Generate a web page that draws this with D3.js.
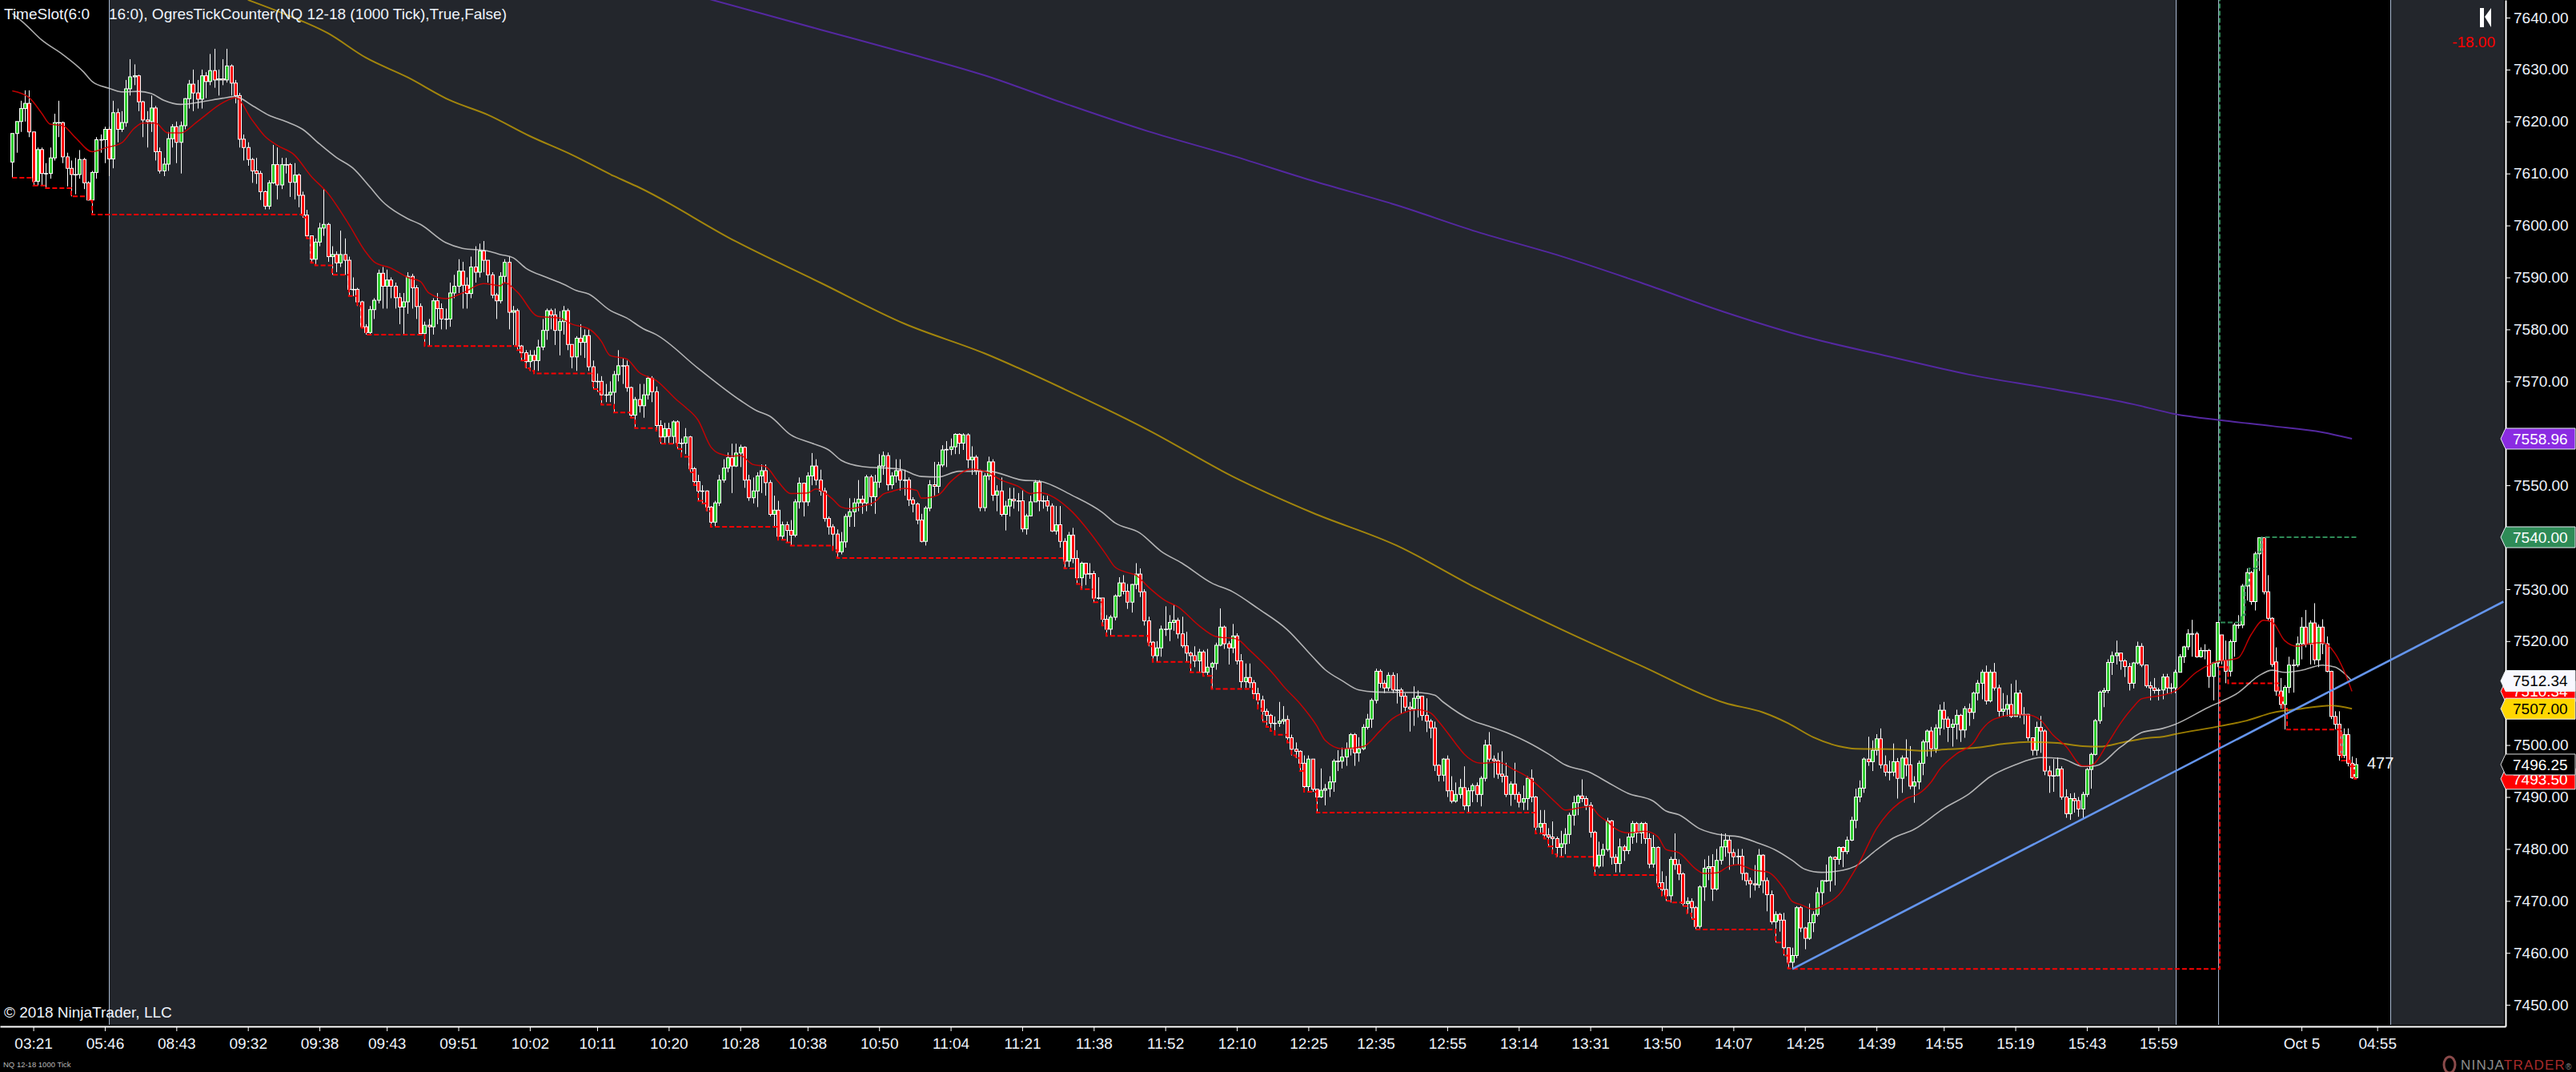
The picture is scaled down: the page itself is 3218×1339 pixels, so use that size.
<!DOCTYPE html>
<html>
<head>
<meta charset="utf-8">
<script src="https://cdn.jsdelivr.net/npm/d3@7"></script>
<style>
html, body { margin: 0; padding: 0; background: #000; overflow: hidden; }
text { font-family: "Liberation Sans", Arial, sans-serif; }
</style>
</head>
<body>
<div id="chart"></div>
<script>
// bars, 10 per row
const closes = [
7617.7,7620,7622.5,7623.5,7618,7608.5,7614.6,7610,7610,7613,
7619.8,7619.8,7613.2,7611,7609.8,7609.8,7612.7,7608.2,7604.9,7610.2,
7616.5,7616.5,7618.5,7612.8,7621.7,7618.5,7619.8,7626.3,7628.6,7628.8,
7623.8,7620.3,7620,7622.6,7614.2,7610.5,7611.8,7616.7,7619,7616,
7619.2,7624.4,7627.2,7625.5,7624.3,7628.8,7627.7,7629.8,7628,7628.2,
7628,7630.7,7627.4,7625,7616.6,7615,7612.7,7610.5,7610,7606.5,
7603.7,7608.2,7611.7,7607.8,7611.7,7611.7,7608.3,7609.7,7605.8,7602,
7598,7593.5,7596.8,7599.5,7600.2,7594,7594.4,7592.8,7594.4,7593.3,
7587.7,7587.7,7585.3,7580.5,7579.4,7583.8,7585.6,7590.8,7588.3,7589.5,
7588.3,7586.1,7584.3,7585.3,7590.2,7588,7584.4,7579.2,7580.8,7580.5,
7585.5,7584,7582,7582,7587,7588.3,7591.2,7588.5,7586.9,7592,
7591,7595.1,7593.3,7590.5,7586.6,7585.5,7590.2,7592.9,7583.3,7583.6,
7576.8,7575.5,7573.8,7575,7574,7576.6,7579.8,7583.6,7582.8,7579.8,
7581.5,7583.6,7577.1,7574.7,7578.3,7577.5,7578.8,7572.8,7570,7570,
7567.4,7567.4,7567.9,7571.3,7573,7573,7568.8,7563.5,7566.5,7565.3,
7567.4,7570.6,7568,7561.5,7559.3,7560.9,7559.4,7562.2,7558.1,7558.1,
7559.3,7553.2,7550.7,7548.9,7548.9,7545.8,7542.9,7546.6,7551,7553.3,
7555.3,7553.7,7556.2,7557.3,7551,7547.6,7548.9,7551.8,7552.8,7550.5,
7544.4,7545.2,7540.2,7542.4,7541.3,7540.4,7546.8,7550.4,7546.8,7551.8,
7553.7,7551,7548.9,7543.6,7542,7540.6,7537.2,7539.1,7544,7544.9,
7546.6,7547.3,7546.6,7551.6,7547.8,7550.6,7553.7,7555.7,7550.1,7551.8,
7552.8,7551,7551,7547.2,7546.4,7543.3,7539.2,7545.6,7550.1,7549.8,
7553.9,7556.8,7556.9,7557.4,7559.8,7558.1,7559.7,7554.9,7555.4,7552.8,
7545.7,7551.8,7554.5,7548.1,7548.9,7544.4,7546,7547.3,7547,7547,
7541.6,7544.1,7546.8,7550.6,7547,7547,7546,7541.2,7542.4,7539.2,
7535.4,7540.4,7535.9,7532.2,7535,7532.9,7533,7528.3,7528.3,7524.2,
7522.3,7524.6,7528.7,7531.2,7529.6,7527.5,7530.9,7532.9,7529.5,7523.9,
7519.8,7517.2,7518.7,7522.3,7522.3,7523.6,7524,7521.4,7519.1,7517.7,
7517.2,7516.2,7517.9,7514,7515,7515.7,7519.2,7522.7,7519.5,7518.7,
7521,7516.2,7512.2,7513,7512,7509.9,7508.7,7506.5,7505.7,7504.2,
7504.2,7504.6,7504.9,7501.4,7499.2,7498.8,7496.5,7492,7497.3,7491.5,
7490,7491.3,7491.6,7492.9,7496.9,7496.9,7497.7,7499.3,7502,7498.5,
7499.3,7503.4,7505,7508.6,7514.2,7511.9,7511,7513.4,7510.6,7510.6,
7509.4,7507.3,7507,7509,7509.4,7505.7,7504.6,7503.3,7496.1,7494.2,
7497.3,7491.2,7489.2,7490.5,7491.8,7488.3,7491.2,7492.2,7490.5,7493.6,
7500,7497.3,7497,7494.4,7494,7490.5,7492.5,7490.5,7489,7489.7,
7493.6,7490,7484.2,7484.9,7482.7,7482.3,7482,7480.3,7481,7482.8,
7486.5,7488.9,7490.2,7489.7,7488.4,7483.2,7476.7,7478.8,7479.9,7485.4,
7478.4,7477.2,7480.4,7479.7,7482.3,7484.9,7483.1,7484.9,7482,7477.1,
7480.3,7473.5,7472.2,7471,7478,7477,7475.2,7469.5,7469.9,7468.7,
7465.1,7472.7,7476.3,7476.6,7472.3,7477.8,7480.4,7481.7,7479.3,7478.5,
7478.6,7475.3,7473.9,7473.3,7473.1,7478.8,7473.9,7471.2,7466,7467.4,
7466.3,7461,7458.2,7459.5,7468.7,7464.8,7462.8,7465.8,7467.4,7471.6,
7473.9,7473.9,7478.4,7478,7480.3,7479.5,7481.7,7485.5,7490,7491.7,
7497.3,7496.8,7499,7501.2,7496.2,7494.8,7494.8,7496.8,7493.6,7497.5,
7496.2,7492.1,7492.9,7496.5,7500.6,7502.7,7499.3,7503.3,7506.7,7505,
7503.4,7504,7505.7,7502.9,7507,7506.3,7510,7511.9,7514,7508.5,
7514,7511,7506.5,7506.9,7507.8,7505.5,7510,7505.9,7505.9,7501.4,
7499,7503.4,7502.7,7495,7494.1,7494.1,7495.4,7490,7486.8,7489.7,
7489.3,7487.7,7490.5,7495.3,7498.2,7504.7,7510.2,7510.5,7515.9,7517.2,
7517.7,7516.2,7515.1,7511.9,7515.8,7519,7515.4,7511.4,7511,7510.5,
7510.6,7513.1,7511,7511,7514,7517,7518.9,7521.4,7521.4,7517,
7518.2,7518.2,7513.2,7515.8,7523.6,7516.3,7514.2,7519.9,7523.1,7523.1,
7530.6,7533.2,7527.6,7536.8,7539.9,7529.5,7524.4,7515.5,7510.4,7507.8,
7511.1,7515.4,7515.4,7519.5,7522.7,7519.4,7523.5,7516.4,7522.7,7519.5,
7514.2,7505.5,7504,7498,7502,7496.5,7493.7,7496.25
];
const highs = [
7617.7,7620,7624,7626,7626,7618,7615,7615,7612,7615,
7621.5,7624,7620,7614,7612.5,7613,7614.5,7613,7608.5,7610.5,
7617,7617.5,7619,7619,7624,7622.5,7622,7628,7632,7631,
7629,7624,7622,7625,7623,7615,7613,7618,7619.5,7620,
7620,7624.5,7628,7630,7628,7630,7629.5,7633,7634,7630,
7632,7634,7631,7628,7625.5,7617.5,7616,7613,7613,7610.5,
7606.7,7608.7,7615.5,7615,7613,7613,7612,7612,7610,7606.5,
7603,7598,7597.5,7600.5,7607,7600.5,7596,7595,7599,7597.5,
7594,7590,7588,7585.5,7581,7584.5,7586,7591.5,7592,7591.5,
7590,7589,7587,7587,7591,7590.7,7588.5,7585,7581.5,7582,
7586,7587,7585,7584,7589,7590.5,7593.5,7593,7590,7594,
7596,7596.5,7597,7592.5,7591,7587,7591,7593.5,7594,7584.5,
7584,7577,7576,7576,7576,7578,7582,7584,7584,7584,
7583.5,7584.5,7584,7577,7578.7,7581,7580,7580,7574,7571.5,
7571,7569.5,7570,7572,7576,7574.5,7574,7569,7567,7569.5,
7569.5,7571,7571,7569,7562.5,7562,7562,7562.5,7562.5,7559,
7561,7559.5,7553.5,7552,7550,7549,7546,7547,7552,7555,
7556.3,7558,7558,7557.8,7557.5,7552,7551.5,7552.5,7554,7554,
7551,7548,7547,7543,7543,7543.3,7547.3,7551.5,7550.5,7552.5,
7556.2,7555,7553,7549.5,7544,7542.5,7541.5,7541,7544.5,7547.5,
7547.5,7551,7548,7552,7552,7552,7556,7556.5,7556.3,7552.5,
7555,7555,7553,7551.5,7547.7,7546.7,7544.5,7546,7551,7554.5,
7554.5,7557.7,7558.5,7559,7560,7560,7560,7560,7557.5,7555.8,
7553,7552.3,7555.5,7555,7550,7551.5,7547,7549.5,7549.5,7548.5,
7549,7544.5,7548,7551,7551,7548,7548,7546.5,7546,7546,
7539.8,7541,7541.8,7537.5,7535.3,7535,7535,7533.5,7532.3,7528,
7525,7525,7529,7532.3,7532.7,7531,7531,7535,7534,7530,
7524.7,7520,7520,7523,7526.7,7525,7527,7524.5,7524.7,7521.8,
7518,7519,7518.5,7518.3,7518.5,7516,7519.7,7526.3,7523,7520,
7523.3,7521.5,7517.5,7515.7,7515.7,7512.5,7511,7509.5,7507,7506,
7505.5,7508.3,7507.5,7505.7,7502,7500.5,7499,7498,7498,7497.3,
7491.5,7495.5,7492.5,7494,7497.3,7499,7499.5,7500.5,7502.3,7502.3,
7501.5,7504,7506,7509,7514.7,7514.6,7512.5,7514,7514,7513.8,
7511,7510,7508.3,7511.3,7510.5,7509.5,7509,7505,7504.5,7496.3,
7497.5,7498,7494,7492.8,7493.5,7495.9,7491.8,7492.6,7492.8,7494,
7501,7502.5,7498,7498.5,7498.8,7496.6,7493,7496.6,7491,7492.2,
7494,7495.3,7490.2,7487.5,7487.5,7484,7485.3,7482.4,7483.5,7484,
7487,7490.2,7490.5,7493.4,7490.2,7489,7483.5,7481.4,7481,7486,
7485.6,7479,7482,7480.8,7483,7485.4,7485.2,7485.2,7485.2,7483,
7482.7,7480.5,7475.7,7474.8,7478.5,7483,7478,7475.5,7470.7,7470.5,
7469,7473,7478,7478.7,7479,7480,7483,7483,7482.5,7480,
7480,7480,7475.5,7474.5,7476.9,7480,7479,7474.5,7472,7468,
7467.7,7467.7,7461,7461,7469,7469,7465,7469.5,7468,7472.6,
7474,7477,7478.7,7478.6,7480.5,7480.5,7482.4,7486.2,7491.6,7493.2,
7497.6,7501.6,7500.9,7502.1,7503.2,7498,7497,7500.3,7497.5,7498,
7501.1,7499.8,7494,7497,7501,7503,7503.5,7504,7507.8,7508.3,
7505.5,7505,7506.8,7506,7507.5,7508,7510.3,7512.5,7514.5,7515.3,
7514.5,7515.8,7511.6,7510,7509.6,7511.8,7512.5,7510.6,7507.3,7506,
7501.5,7504.5,7505.6,7503,7496,7497.3,7497.6,7495.9,7491.5,7490.7,
7490.8,7490,7491,7495.6,7498.5,7505,7510.5,7511,7516.5,7518,
7520.1,7517.8,7516.5,7515.8,7516,7519.9,7519.6,7515.5,7512.2,7512.9,
7511,7513.7,7513.7,7511.9,7514.5,7517.5,7519.1,7522.3,7524.1,7521.8,
7518.8,7519.4,7518.5,7516,7523.6,7521.2,7520.1,7520.3,7523.5,7525,
7531,7534,7533.5,7537.2,7540,7540,7532.7,7524.6,7518.8,7512.9,
7511.5,7517,7516.5,7520.9,7524.6,7526,7524,7527.3,7523.2,7524.2,
7520.9,7514.3,7506.5,7506.5,7503.2,7503.2,7497.8,7497.5
];
const lows = [
7609.2,7614,7618,7620,7617,7607.7,7607.7,7607.7,7607.2,7609,
7612.5,7617,7612,7607.5,7605.6,7606,7609,7607,7604.8,7602.1,
7609,7614,7612,7609.5,7611,7616,7618,7619,7625,7627,
7622,7617,7615,7618,7612.5,7610,7609.5,7610.5,7615,7612,
7610,7618.5,7622.5,7622,7622.5,7622.5,7624.5,7627,7626.5,7625,
7627,7627.5,7625,7623.5,7615,7612.5,7611.5,7608.2,7608,7604.9,
7603.1,7603.1,7608,7605,7607,7610,7605.5,7605,7603.5,7601.5,
7597.5,7592.8,7592.3,7596,7598,7593,7590.5,7591,7592,7590.5,
7586.4,7586.4,7584.5,7580.3,7579,7579,7582,7585,7584,7584,
7586,7584,7581,7579.1,7583,7584,7582,7579,7576.8,7576.8,
7579,7581,7580,7580,7580.5,7586,7587,7584,7584,7586,
7589,7590,7591,7589,7586,7582,7585,7589,7580,7577,
7576,7574,7572.5,7572,7571.5,7572,7576,7578,7580,7577,
7575,7579,7576,7572.5,7572,7575,7574.5,7572,7568.5,7568,
7565.5,7566,7566,7564,7570,7569.5,7568,7563,7561,7564,
7563,7566.5,7566,7560.5,7558,7558,7558,7558,7557,7555.5,
7556,7552.5,7550,7547,7546.5,7545,7542,7542,7546,7550.5,
7552.5,7548.5,7553.5,7553.5,7549.5,7547,7546.5,7545.8,7548.5,7548,
7544,7542,7539.5,7539.5,7539,7538.4,7540,7545.5,7544,7546,
7550,7550,7548,7543,7540.5,7537.5,7536,7536.7,7538,7542,
7542,7545,7544.5,7545,7546,7544.5,7549.5,7552,7549,7549.3,
7550.5,7549,7548,7546,7544.8,7542.5,7539,7538.4,7545,7548,
7548.5,7553.5,7553.5,7555.8,7556,7556,7556.8,7553.3,7552,7552,
7545,7545,7551,7547,7545,7544,7541.3,7544,7545.5,7545,
7541,7540.5,7544,7547,7545,7545.5,7545,7541,7540.5,7538,
7534,7534.3,7535,7531,7530,7530.8,7532,7527.5,7528,7523,
7521,7521,7524,7528.5,7529,7526.2,7525.5,7530,7528.5,7523,
7519,7516,7516,7517,7521,7520,7522,7520.5,7518.7,7516,
7514,7515,7514,7513.3,7513.5,7510.8,7514.5,7519,7518.5,7515.5,
7517.7,7515.5,7511,7511,7511,7509,7507,7504.5,7503.5,7502.7,
7502,7503.5,7504,7500.5,7498,7497.5,7495,7491,7491,7491,
7487,7489.8,7488.4,7490,7491,7495,7495.5,7496,7498,7496,
7496.8,7499,7503,7503.3,7508,7511,7510,7510.4,7510,7508,
7506,7506.5,7502.6,7503.7,7505.3,7504.7,7502.5,7501.3,7495,7493,
7493,7490,7488.8,7488.9,7489.7,7487.5,7487,7489,7489,7488.2,
7493,7496.8,7493.7,7493.5,7492.8,7490,7488.3,7489.5,7488,7487.5,
7487.5,7489,7483,7483,7482,7480.5,7479,7478.5,7478.5,7479,
7481,7484.5,7486.5,7489,7487.5,7482.2,7475,7476.3,7476.6,7479.5,
7477,7475.5,7475.5,7477.7,7479,7481,7481.2,7481,7481,7476.3,
7476.4,7472.5,7471,7470,7469.7,7476,7474,7469,7467.6,7466.5,
7464.5,7464.7,7470,7474,7470,7472,7477,7478.5,7476,7477,
7477,7474,7473,7470.6,7472,7472.5,7471.5,7468,7465.5,7462,
7464.1,7459.5,7457,7456.9,7459,7464,7460.7,7462.5,7464,7467,
7469.3,7473.6,7471.8,7473,7477,7476.5,7479,7481.5,7484,7489,
7490.8,7496,7495,7498,7495.5,7494,7493.2,7494,7489.7,7490.8,
7494,7491.5,7488.9,7491.5,7494.2,7497.8,7497.7,7498.5,7501.9,7503,
7500.6,7499.7,7501.1,7500.6,7501.4,7503.7,7505,7508.6,7508.8,7507.8,
7508.2,7510.5,7505.5,7505.5,7505.5,7505.2,7505.6,7505.2,7504,7500.8,
7498,7498,7498.5,7494.2,7490.8,7491,7494,7489.5,7486,7485.6,
7487,7486.2,7485.8,7490,7491.6,7498,7504.1,7507.3,7510,7513.5,
7515.5,7514.5,7513.1,7510.5,7510.9,7515.5,7515,7511,7508.6,7509.9,
7508.6,7508.8,7509.9,7509.9,7510,7514,7515.8,7518.3,7517,7516.8,
7516.8,7516.5,7511,7508.6,7515,7515.5,7511.9,7513.2,7517,7522.4,
7522.5,7527.8,7527,7525.9,7533.5,7529,7524,7515,7509.5,7507,
7503,7510,7510.1,7515,7516.5,7518.8,7515.5,7515.5,7515,7517.5,
7514,7505,7503,7497,7497.5,7495.9,7493.5,7493.5
];
// bars that did not open at the previous close
const openOverrides = { 0: 7612.2, 525: 7521.2, 538: 7516 };

// indicators as [bar, price]
const redLine = [[0,7625.9],[4,7624.6],[7,7621.6],[9,7619.5],[12,7619.2],[15,7616.9],[19,7614.2],[22,7614.9],[26,7615.9],[29,7618.7],[31,7619.7],[34,7619.7],[37,7617.8],[40,7617.8],[44,7620],[50,7623.6],[53,7624.6],[57,7620.3],[60,7617.2],[63,7615.4],[67,7613.6],[71,7609.5],[75,7606.2],[80,7600.2],[84,7594.9],[86,7593],[90,7591.8],[94,7590],[97,7589.2],[99,7587],[103,7585.9],[107,7587],[112,7588.8],[116,7588.4],[117,7589],[120,7587.2],[125,7582.5],[130,7582.2],[133,7581],[137,7580.1],[140,7577.7],[142,7575],[146,7574.3],[149,7571.7],[153,7570.2],[158,7566.35],[160,7565],[163,7562.5],[166,7557.4],[168,7556.1],[171,7555.6],[173,7555.7],[176,7554],[179,7553.6],[182,7550.7],[185,7548.4],[189,7548.5],[191,7549.3],[195,7547.3],[197,7545.8],[199,7545.5],[203,7546.2],[205,7546.8],[207,7548.3],[209,7548.8],[212,7549.4],[215,7549],[216,7547.5],[220,7548.1],[223,7550.7],[228,7553.1],[232,7552.4],[235,7551],[239,7549.8],[242,7548.4],[244,7548.6],[252,7544.8],[256,7541],[260,7536.6],[262,7534.3],[265,7533.2],[267,7532.7],[270,7530.4],[274,7527.8],[277,7526.6],[282,7523],[286,7520.9],[291,7520.4],[294,7518.3],[300,7513.4],[302,7511.4],[306,7508],[310,7503.7],[312,7500.9],[316,7499.3],[321,7499.7],[325,7502.7],[328,7505.1],[330,7506],[334,7506.8],[337,7506.2],[339,7504.5],[343,7500.3],[345,7498.3],[349,7496.5],[353,7496.7],[357,7495.2],[360,7493.9],[363,7491.9],[367,7488.8],[369,7487.5],[373,7488],[375,7488.2],[377,7486.5],[379,7485.3],[381,7483.9],[384,7483.1],[388,7483.4],[391,7482.4],[393,7479.9],[396,7479.3],[400,7476.2],[402,7475.3],[405,7475.4],[408,7476.7],[410,7477],[414,7475.9],[417,7475.6],[421,7472.4],[423,7469.9],[425,7469.3],[428,7468.4],[431,7469.4],[435,7472.1],[436,7473.4],[439,7477.5],[443,7483.9],[447,7487.9],[450,7489.7],[453,7490.6],[456,7492.9],[458,7495.3],[462,7498.3],[466,7500.4],[468,7502.9],[471,7505],[476,7505.8],[479,7505.8],[482,7504.8],[485,7501.9],[488,7499.8],[492,7496],[494,7496.1],[498,7500.4],[501,7504.2],[504,7507.3],[506,7508.9],[511,7509.6],[514,7510.4],[519,7514],[523,7515.8],[529,7516.8],[532,7521.2],[535,7524],[537,7523.7],[540,7520.1],[543,7519],[546,7519.5],[549,7519.7],[552,7517.6],[554,7514.5],[556,7510.34]];
const whiteLine = [[0,7640.8],[3,7638.8],[7,7635.7],[12,7632.9],[17,7629.5],[19,7627.7],[23,7626.4],[26,7625.7],[30,7625.8],[33,7625.4],[36,7624.1],[40,7623.3],[45,7623.8],[50,7624.5],[53,7624.8],[57,7623.1],[61,7621.2],[65,7620],[69,7618.5],[73,7615.7],[77,7613.1],[81,7611],[85,7607.4],[88,7604.6],[94,7601.3],[97,7600.2],[103,7596.7],[107,7595.6],[113,7595.1],[116,7594.4],[119,7593.8],[122,7591.8],[127,7590],[131,7588.7],[134,7587.5],[137,7586.8],[142,7583.7],[146,7582.2],[150,7580.1],[153,7579],[163,7572.5],[173,7566.35],[177,7564.3],[180,7563.3],[185,7559.7],[190,7558.1],[194,7556.8],[197,7554.8],[202,7553.6],[211,7553.1],[216,7551.7],[220,7551.6],[225,7552.7],[232,7552.7],[240,7551],[244,7550.8],[252,7548],[259,7544.8],[262,7542.8],[268,7540.8],[273,7537.3],[278,7535],[285,7531.2],[290,7529.5],[296,7526.3],[303,7522.2],[309,7517],[312,7514.5],[316,7512.4],[320,7510.6],[324,7510.2],[334,7510.1],[338,7509.6],[340,7508.3],[347,7504.7],[351,7503.6],[356,7502.1],[360,7500.6],[365,7498.3],[369,7496.2],[375,7494.7],[379,7492.9],[384,7490.7],[390,7489.2],[393,7487.3],[396,7486.6],[401,7483.9],[407,7482.6],[410,7482.4],[415,7481.1],[419,7479.8],[423,7477.8],[426,7476.1],[430,7475.5],[435,7475.9],[438,7476.7],[443,7479.8],[447,7482.1],[452,7483.8],[459,7487.8],[465,7490.6],[470,7493.9],[476,7496.2],[479,7497.1],[482,7497.6],[487,7497.4],[492,7495.9],[495,7496],[501,7499.6],[506,7502.4],[511,7503.2],[514,7504],[522,7507.3],[525,7508.4],[529,7510.1],[534,7513.4],[537,7514.4],[540,7514],[544,7514.4],[549,7515.4],[552,7515],[556,7512.34]];
const yellowLine = [[56,7643.4],[65,7640.6],[75,7637],[84,7632.3],[94,7628.5],[104,7624.1],[113,7621.3],[123,7617.2],[133,7613.6],[143,7609.5],[149,7607.3],[172,7596.9],[192,7589],[212,7581.1],[231,7575.4],[250,7568.5],[270,7560.6],[290,7551.7],[309,7544.7],[329,7538.4],[348,7530.2],[368,7522.3],[387,7515.3],[407,7508.1],[416,7506.3],[422,7504.2],[428,7501.5],[434,7499.8],[438,7499.3],[448,7499.2],[454,7498.9],[460,7499.2],[467,7499.5],[473,7500.2],[479,7500.6],[486,7500.4],[492,7499.8],[496,7499.7],[502,7500.6],[508,7501.4],[511,7501.6],[514,7502.1],[525,7503.7],[531,7504.7],[537,7506.2],[544,7507],[551,7507.6],[556,7507]];
const purpleLine = [[165,7643.7],[192,7637.7],[212,7633.3],[231,7628.9],[250,7623.5],[270,7618.1],[290,7613.4],[309,7608.6],[329,7603.9],[348,7598.8],[368,7594.1],[387,7589],[407,7583.3],[426,7578.6],[446,7574.8],[465,7571.3],[485,7568.5],[504,7565.6],[514,7563.7],[525,7562.5],[537,7561.4],[549,7560.2],[556,7558.96]];
const trendLine = [[423,7456.9],[592,7527.6]];

// running high/low restart on this bar, the old high sits off the top of the chart
const sessionResetBar = 524;
const priorHigh = 7665;

const timeTickBars = [5,22,39,56,73,89,106,123,139,156,173,189,206,223,240,257,274,291,308,324,341,358,375,392,409,426,443,459,476,493,510,544,562];
const timeLabels = ["03:21","05:46","08:43","09:32","09:38","09:43","09:51","10:02","10:11","10:20","10:28","10:38","10:50","11:04","11:21","11:38","11:52","12:10","12:25","12:35","12:55","13:14","13:31","13:50","14:07","14:25","14:39","14:55","15:19","15:43","15:59","Oct 5","04:55"];
const priceTicks = d3.range(7450, 7641, 10);
// these tick labels sit behind a price flag
const coveredTicks = [7510, 7540, 7560];

const flagPrices = [7558.96, 7540, 7510.34, 7512.34, 7507, 7493.5, 7496.25];
const flagFills = ["#8a2be2", "#2e8b57", "#ff0000", "#f8f8ff", "#ffd700", "#ff0000", "#000000"];
const flagTextColors = ["#fff", "#fff", "#fff", "#000", "#000", "#fff", "#fff"];

const width = 3218, height = 1339;
const axisX = 3130, axisY = 1282;
const panelColor = "#23262c";
const textColor = "#eef3fb";
const fontSize = 19;

const x = d3.scaleLinear().domain([-2.91, 592.5]).range([0, axisX]);
const y = d3.scaleLinear().domain([7643.39, 7445.86]).range([0, axisY]);

// session shading, in pixels like the lines between them
const panels = [[136, 2718], [2986, 3128]];
const sessionLines = [136, 2718, 2771, 2986];

let svg = d3.select("#chart").append("svg")
    .attr("width", width)
    .attr("height", height)
    .style("display", "block");

svg.append("rect").attr("width", width).attr("height", height).attr("fill", "#000");

svg.selectAll("rect.panel").data(panels).enter().append("rect")
    .attr("class", "panel")
    .attr("x", d => d[0])
    .attr("width", d => d[1] - d[0])
    .attr("height", 1280)
    .attr("fill", panelColor);

svg.selectAll("line.session").data(sessionLines).enter().append("line")
    .attr("class", "session")
    .attr("x1", d => d + 0.5).attr("x2", d => d + 0.5)
    .attr("y1", 0).attr("y2", 1280)
    .attr("stroke", "#a8b8d0").attr("stroke-width", 1);

svg.append("defs").append("clipPath").attr("id", "plot")
    .append("rect").attr("width", 3128).attr("height", 1280);

let plot = svg.append("g").attr("clip-path", "url(#plot)");

// build the bars
let bars = closes.map((c, i) => ({
    i: i,
    open: openOverrides[i] !== undefined ? openOverrides[i] : closes[i - 1],
    close: c,
    high: highs[i],
    low: lows[i],
}));

plot.selectAll("line.wick").data(bars).enter().append("line")
    .attr("class", "wick")
    .attr("x1", d => Math.round(x(d.i)) + 0.5)
    .attr("x2", d => Math.round(x(d.i)) + 0.5)
    .attr("y1", d => y(d.high))
    .attr("y2", d => y(d.low))
    .attr("stroke", "#fff")
    .attr("stroke-width", 1);

plot.selectAll("rect.body").data(bars).enter().append("rect")
    .attr("class", "body")
    .attr("x", d => Math.round(x(d.i)) - 1.5)
    .attr("width", 4)
    .attr("y", d => y(Math.max(d.open, d.close)))
    .attr("height", d => Math.max(0.5, Math.abs(y(d.open) - y(d.close))))
    .attr("fill", d => d.close > d.open ? "#32cd32" : d.close < d.open ? "#ff0000" : "#fff")
    .attr("stroke", "#fff")
    .attr("stroke-width", 1);

// running low and high of the session, stepped and dashed
let stepLow = [], stepHigh = [];
let lo = Infinity, hi = priorHigh;
bars.forEach((d) => {
    if (d.i === sessionResetBar) {
        lo = Infinity;
        hi = -Infinity;
    }
    lo = Math.min(lo, d.low);
    hi = Math.max(hi, d.high);
    stepLow.push([d.i, lo]);
    stepHigh.push([d.i, hi]);
});

// the last session's steps sit a little right of the bar centre
let stepPath = d3.line()
    .x(d => x(d[0]) + (d[0] >= sessionResetBar ? 3 : 0))
    .y(d => y(d[1]))
    .curve(d3.curveStepAfter);

plot.append("path")
    .attr("d", stepPath(stepLow))
    .attr("fill", "none")
    .attr("stroke", "#ff0000")
    .attr("stroke-width", 2)
    .attr("stroke-dasharray", "6,3");

plot.append("path")
    .attr("d", stepPath(stepHigh.slice(sessionResetBar - 1)))
    .attr("fill", "none")
    .attr("stroke", "#2e8b57")
    .attr("stroke-width", 2)
    .attr("stroke-dasharray", "6,3");

// indicators over the bars
let indicator = d3.line().x(d => x(d[0])).y(d => y(d[1])).curve(d3.curveMonotoneX);

[
    { data: purpleLine, color: "#5428a0", w: 2, o: 1 },
    { data: yellowLine, color: "#d4aa00", w: 2, o: 0.72 },
    { data: whiteLine, color: "#d8d8d8", w: 1.6, o: 0.8 },
    { data: redLine, color: "#d40000", w: 1.5, o: 0.9 },
].forEach((s) => {
    plot.append("path")
        .attr("d", indicator(s.data))
        .attr("fill", "none")
        .attr("stroke", s.color)
        .attr("stroke-width", s.w)
        .attr("stroke-opacity", s.o);
});

plot.append("path")
    .attr("d", d3.line().x(d => x(d[0])).y(d => y(d[1]))(trendLine))
    .attr("fill", "none")
    .attr("stroke", "#6495ed")
    .attr("stroke-width", 2.6);

// axes
let xAxis = d3.axisBottom(x)
    .tickValues(timeTickBars)
    .tickFormat((d, i) => timeLabels[i])
    .tickSize(6)
    .tickSizeOuter(0)
    .tickPadding(9);

let yAxis = d3.axisRight(y)
    .tickValues(priceTicks)
    .tickFormat(d => coveredTicks.includes(d) ? "" : d3.format(".2f")(d))
    .tickSize(6)
    .tickSizeOuter(0)
    .tickPadding(4);

let xg = svg.append("g").attr("transform", "translate(0," + axisY + ")").call(xAxis);
let yg = svg.append("g").attr("transform", "translate(" + axisX + ",0)").call(yAxis);

[xg, yg].forEach((g) => {
    g.selectAll(".domain").attr("stroke", "#fff").attr("stroke-width", 2);
    g.selectAll(".tick line").attr("stroke", "#fff");
    g.selectAll("text")
        .attr("fill", textColor)
        .style("font-family", '"Liberation Sans", Arial, sans-serif')
        .style("font-size", fontSize + "px");
});

// price flags on the axis
let flagShape = (py) => {
    return [[3124, py], [3130, py - 13], [3217, py - 13], [3217, py + 13], [3130, py + 13]].join(" ");
};

let flags = svg.selectAll("g.flag").data(flagPrices).enter().append("g").attr("class", "flag");

flags.append("polygon")
    .attr("points", d => flagShape(y(d)))
    .attr("fill", (d, i) => flagFills[i])
    .attr("stroke", (d, i) => flagFills[i] === "#000000" ? "#ddd" : "#e8eef5")
    .attr("stroke-width", 1);

flags.append("text")
    .attr("x", 3139)
    .attr("y", d => y(d))
    .attr("dy", "0.36em")
    .attr("fill", (d, i) => flagTextColors[i])
    .style("font-size", fontSize + "px")
    .text(d => d.toFixed(2));

// chart texts
let label = (px, py, str, size, color, anchor) => {
    return svg.append("text")
        .attr("x", px).attr("y", py)
        .attr("dy", "0.36em")
        .attr("fill", color)
        .attr("text-anchor", anchor || "start")
        .style("font-size", size + "px")
        .text(str);
};

label(5, 17, "TimeSlot(6:0", fontSize, textColor);
label(136, 17, "16:0), OgresTickCounter(NQ 12-18 (1000 Tick),True,False)", fontSize, textColor);
label(5, 1264, "© 2018 NinjaTrader, LLC", fontSize, textColor);
label(4, 1330, "NQ 12-18 1000 Tick", 9.5, "#b8b8b8");
label(3117, 52, "-18.00", fontSize, "#ff0000", "end");
label(2957, 953, "477", 20, textColor);

// go-to-end button
svg.append("rect").attr("x", 3098).attr("y", 10).attr("width", 5).attr("height", 24).attr("fill", "#fff");
svg.append("polygon").attr("points", "3112,10 3104,21 3112,34").attr("fill", "#fff");

// NinjaTrader mark, bottom right
svg.append("ellipse").attr("cx", 3060).attr("cy", 1330).attr("rx", 7).attr("ry", 10)
    .attr("fill", "none").attr("stroke", "#8a4a4a").attr("stroke-width", 3);
let logo = svg.append("text").attr("x", 3074).attr("y", 1336).style("font-size", "17px").attr("letter-spacing", "1.2");
logo.append("tspan").attr("fill", "#8c8c8c").text("NINJA");
logo.append("tspan").attr("fill", "#a82a2a").text("TRADER");
logo.append("tspan").attr("fill", "#8c8c8c").attr("font-size", "10").text("®");
</script>
</body>
</html>
